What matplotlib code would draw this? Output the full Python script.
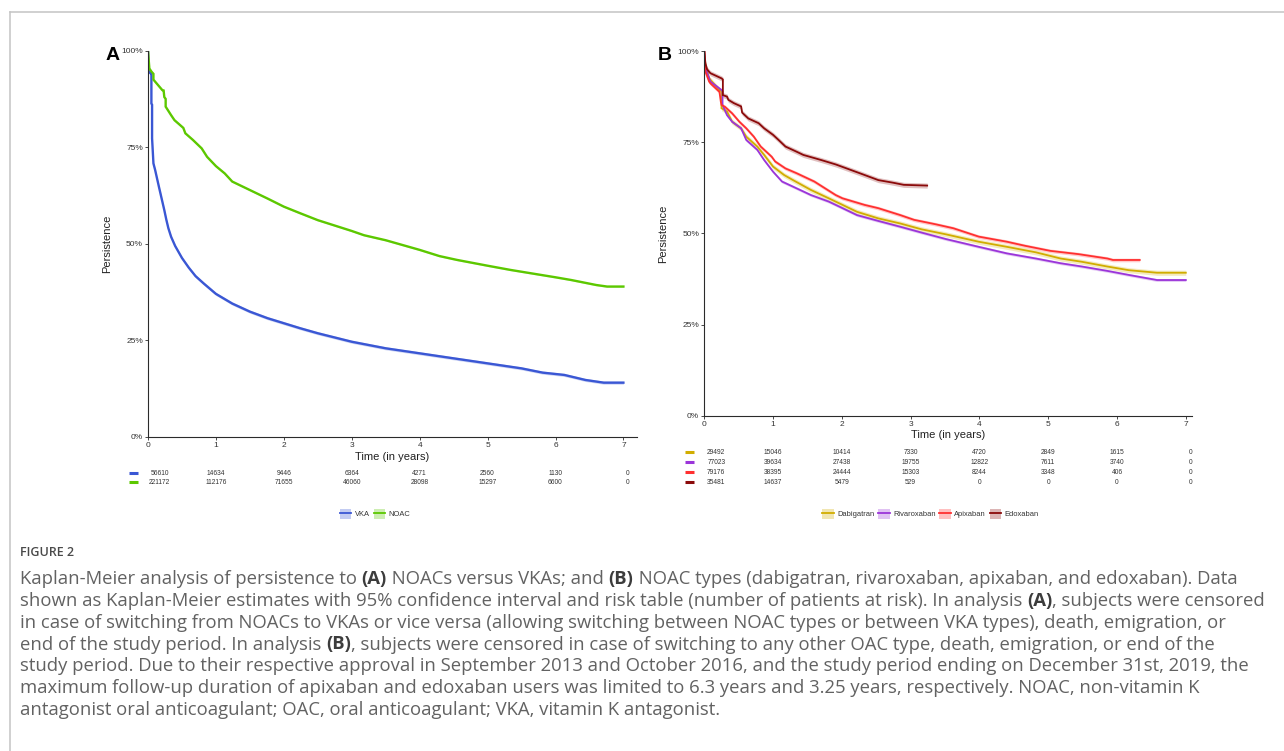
import numpy as np
import matplotlib
matplotlib.use("Agg")
import matplotlib.pyplot as plt
from matplotlib.lines import Line2D
from matplotlib.patches import Patch
from matplotlib.transforms import blended_transform_factory, offset_copy

W, H = 1284, 751
plt.rcParams['font.family'] = ['Liberation Sans', 'DejaVu Sans']

# ---- panel A: NOAC vs VKA ----
vka_t = [0, 0.01, 0.04, 0.05, 0.05, 0.06, 0.06, 0.08, 0.105, 0.16, 0.24, 0.27, 0.30, 0.34, 0.4, 0.5,
         0.6, 0.7, 0.82, 1.0, 1.24, 1.5, 1.76, 2.0, 2.24, 2.5, 3.0, 3.5, 4.0, 4.5, 5.0, 5.5, 5.81,
         6.13, 6.44, 6.71, 7.0]
vka_s = [1.0, 0.946, 0.941, 0.941, 0.863, 0.86, 0.773, 0.708, 0.691, 0.648, 0.587, 0.562, 0.540,
         0.518, 0.494, 0.463, 0.438, 0.416, 0.397, 0.370, 0.345, 0.324, 0.307, 0.294, 0.281, 0.268,
         0.246, 0.229, 0.216, 0.203, 0.190, 0.177, 0.166, 0.160, 0.147, 0.14, 0.14]
noac_t = [0, 0.02, 0.05, 0.08, 0.08, 0.21, 0.23, 0.24, 0.26, 0.26, 0.34, 0.39, 0.52, 0.55, 0.66,
          0.79, 0.87, 1.0, 1.13, 1.24, 1.5, 1.76, 2.0, 2.24, 2.5, 3.0, 3.18, 3.5, 4.0, 4.29, 4.55,
          5.0, 5.34, 6.0, 6.23, 6.6, 6.76, 7.0]
noac_s = [1.0, 0.954, 0.946, 0.94, 0.925, 0.898, 0.897, 0.88, 0.875, 0.855, 0.833, 0.82, 0.80,
          0.786, 0.769, 0.747, 0.725, 0.701, 0.682, 0.661, 0.639, 0.617, 0.596, 0.579, 0.561, 0.533,
          0.522, 0.509, 0.484, 0.468, 0.458, 0.443, 0.432, 0.413, 0.406, 0.393, 0.389, 0.389]
risk_vka = [56610, 14634, 9446, 6364, 4271, 2560, 1130, 0]
risk_noac = [221172, 112176, 71655, 46060, 28098, 15297, 6600, 0]

# ---- panel B: NOAC types ----
dabi_t = [0, 0.016, 0.07, 0.22, 0.25, 0.25, 0.33, 0.405, 0.535, 0.61, 0.77, 0.87, 1.0, 1.16, 1.29,
          1.55, 1.81, 2.01, 2.22, 2.53, 2.85, 3.16, 3.52, 3.99, 4.4, 4.82, 5.18, 5.49, 5.86, 6.17,
          6.58, 7.0]
dabi_s = [1.0, 0.961, 0.925, 0.893, 0.89, 0.843, 0.834, 0.806, 0.788, 0.765, 0.738, 0.715, 0.683,
          0.660, 0.646, 0.619, 0.596, 0.578, 0.559, 0.541, 0.527, 0.511, 0.497, 0.477, 0.463, 0.448,
          0.431, 0.422, 0.409, 0.399, 0.392, 0.392]
riva_t = [0, 0.016, 0.09, 0.25, 0.265, 0.265, 0.33, 0.405, 0.535, 0.61, 0.77, 0.87, 1.0, 1.13, 1.29,
          1.55, 1.81, 2.01, 2.22, 2.53, 2.85, 3.16, 3.52, 3.99, 4.4, 4.82, 5.18, 5.49, 5.86, 6.17,
          6.58, 7.0]
riva_s = [1.0, 0.953, 0.916, 0.893, 0.89, 0.852, 0.824, 0.806, 0.788, 0.756, 0.729, 0.701, 0.669,
          0.642, 0.628, 0.605, 0.587, 0.569, 0.550, 0.534, 0.518, 0.502, 0.484, 0.463, 0.445, 0.431,
          0.418, 0.409, 0.397, 0.386, 0.372, 0.372]
apix_t = [0, 0.016, 0.07, 0.09, 0.22, 0.24, 0.25, 0.30, 0.405, 0.51, 0.61, 0.72, 0.82, 0.98, 1.03,
          1.18, 1.34, 1.6, 1.91, 2.01, 2.33, 2.53, 2.85, 3.05, 3.36, 3.62, 3.99, 4.4, 4.66, 5.03,
          5.44, 5.86, 5.94, 6.33]
apix_s = [1.0, 0.943, 0.916, 0.911, 0.888, 0.861, 0.852, 0.847, 0.829, 0.806, 0.788, 0.765, 0.738,
          0.710, 0.697, 0.678, 0.665, 0.642, 0.605, 0.596, 0.578, 0.569, 0.550, 0.537, 0.525, 0.514,
          0.491, 0.477, 0.466, 0.452, 0.443, 0.431, 0.427, 0.427]
edox_t = [0, 0.016, 0.04, 0.07, 0.09, 0.25, 0.27, 0.27, 0.33, 0.35, 0.43, 0.535, 0.55, 0.64, 0.79,
          0.87, 1.0, 1.08, 1.18, 1.34, 1.44, 1.7, 1.91, 2.07, 2.33, 2.53, 2.74, 2.9, 3.24]
edox_s = [1.0, 0.966, 0.95, 0.943, 0.939, 0.925, 0.922, 0.879, 0.875, 0.866, 0.857, 0.848, 0.831,
          0.815, 0.802, 0.788, 0.770, 0.756, 0.738, 0.724, 0.715, 0.701, 0.689, 0.678, 0.66, 0.646,
          0.639, 0.633, 0.631]
risk_dabi = [29492, 15046, 10414, 7330, 4720, 2849, 1615, 0]
risk_riva = [77023, 39634, 27438, 19755, 12822, 7611, 3740, 0]
risk_apix = [79176, 38395, 24444, 15303, 8244, 3348, 406, 0]
risk_edox = [35481, 14637, 5479, 529, 0, 0, 0, 0]

times = [0, 1, 2, 3, 4, 5, 6, 7]

groups_a = [("VKA", vka_t, vka_s, risk_vka, "#3a57d4", 0.004),
            ("NOAC", noac_t, noac_s, risk_noac, "#5cc800", 0.002)]
groups_b = [("Dabigatran", dabi_t, dabi_s, risk_dabi, "#d1ad00", 0.007),
            ("Rivaroxaban", riva_t, riva_s, risk_riva, "#9b35d9", 0.004),
            ("Apixaban", apix_t, apix_s, risk_apix, "#ff3030", 0.005),
            ("Edoxaban", edox_t, edox_s, risk_edox, "#8b0a0a", 0.007)]


def fx(px):
    return px / W


def fy(py):
    return 1 - py / H


fig = plt.figure(figsize=(W / 100, H / 100), dpi=100)

# frame of the figure box
fig.add_artist(Line2D([fx(10), 1], [fy(12), fy(12)], color="#c4c4c4", lw=1.1))
fig.add_artist(Line2D([fx(10), fx(10)], [fy(12), 0], color="#c4c4c4", lw=1.1))


def km_panel(box, xmax, groups, lw, label, label_xy, ylab_x, xlab_y, rows_y, sw_x, leg_xy, col_shift):
    left, top, right, bottom = box
    ax = fig.add_axes([fx(left), fy(bottom), fx(right) - fx(left), (bottom - top) / H])
    for name, t, s, risk, c, ci in groups:
        s = np.array(s)
        ax.fill_between(t, s - ci, s + ci, color=c, alpha=0.25, lw=0)
        ax.plot(t, s, color=c, lw=lw, solid_joinstyle="miter")
    ax.set_xlim(0, xmax)
    ax.set_ylim(0, 1)
    ax.set_xticks(times)
    ax.set_yticks([0, 0.25, 0.5, 0.75, 1])
    ax.set_yticklabels(["0%", "25%", "50%", "75%", "100%"])
    for sp in ["top", "right"]:
        ax.spines[sp].set_visible(False)
    for sp in ["left", "bottom"]:
        ax.spines[sp].set_color("#2b2b2b")
        ax.spines[sp].set_linewidth(0.8)
    ax.tick_params(length=2.2, width=0.6, labelsize=6, pad=1.5, color="#2b2b2b", labelcolor="#333333")
    ax.set_ylabel("Persistence", fontsize=8, color="#222222")
    ax.set_xlabel("Time (in years)", fontsize=8, color="#222222")
    ax.yaxis.set_label_coords((ylab_x - left) / (right - left), 0.5)
    ax.xaxis.set_label_coords(0.5, -(xlab_y - 5.5 - bottom) / (bottom - top))
    fig.text(fx(label_xy[0]), fy(label_xy[1]), label, fontsize=14, fontweight="bold",
             ha="left", va="center", color="black")

    # risk table
    tr = blended_transform_factory(ax.transData, fig.transFigure)
    for (name, t, s, risk, c, ci), ry in zip(groups, rows_y):
        fig.add_artist(Line2D([fx(sw_x - 4.7), fx(sw_x + 4.7)], [fy(ry), fy(ry)], color=c, lw=2.2,
                              solid_capstyle="butt"))
        for k, (tv, n) in enumerate(zip(times, risk)):
            dx = col_shift[0] if k == 0 else (col_shift[1] if k == len(times) - 1 else 0)
            ax.text(tv, fy(ry), str(n), transform=offset_copy(tr, fig=fig, x=dx * 0.72, y=0, units="points"),
                    fontsize=4.8, ha="center", va="center", color="#333333", clip_on=False)

    handles = [(Patch(facecolor=c, alpha=0.3, lw=0), Line2D([], [], color=c, lw=1.3))
               for name, t, s, risk, c, ci in groups]
    fig.legend(handles, [g[0] for g in groups], loc="center", bbox_to_anchor=(fx(leg_xy[0]), fy(leg_xy[1])),
               ncol=len(groups), frameon=False, fontsize=5.4, handlelength=1.55, handleheight=1.55,
               columnspacing=0.5, handletextpad=0.45, labelcolor="#333333", borderpad=0)
    return ax


km_panel((148, 50.7, 637, 436.7), 7.2, groups_a, 1.7, "A", (106, 55), 112.5, 457,
         [473.3, 482.3], 133.3, (375, 514), (11.5, 4))
km_panel((704.3, 51, 1192, 415.7), 7.09, groups_b, 1.3, "B", (658, 55), 668.6, 435,
         [452.3, 462.3, 472.3, 482.3], 689.3, (930.5, 514), (12, 5))

# ---- caption ----
cap_font = ["Open Sans", "DejaVu Sans"]
fig.text(fx(20), fy(552), "FIGURE 2", fontsize=9, fontweight="semibold", family=cap_font,
         color="#4a4a4a", ha="left", va="center")

caption = [
    [("Kaplan-Meier analysis of persistence to ", False), ("(A)", True),
     (" NOACs versus VKAs; and ", False), ("(B)", True),
     (" NOAC types (dabigatran, rivaroxaban, apixaban, and edoxaban). Data", False)],
    [("shown as Kaplan-Meier estimates with 95% confidence interval and risk table (number of patients at risk). In analysis ", False),
     ("(A)", True), (", subjects were censored", False)],
    [("in case of switching from NOACs to VKAs or vice versa (allowing switching between NOAC types or between VKA types), death, emigration, or", False)],
    [("end of the study period. In analysis ", False), ("(B)", True),
     (", subjects were censored in case of switching to any other OAC type, death, emigration, or end of the", False)],
    [("study period. Due to their respective approval in September 2013 and October 2016, and the study period ending on December 31st, 2019, the", False)],
    [("maximum follow-up duration of apixaban and edoxaban users was limited to 6.3 years and 3.25 years, respectively. NOAC, non-vitamin K", False)],
    [("antagonist oral anticoagulant; OAC, oral anticoagulant; VKA, vitamin K antagonist.", False)],
]
line_y = [579, 601, 623, 644.5, 666, 688, 710]

renderer = fig.canvas.get_renderer()


def run_width(txt, bold, size):
    probe = fig.text(0, 0, "|" + txt + "|", fontsize=size, family=cap_font,
                     fontweight="bold" if bold else "normal")
    base = fig.text(0, 0, "||", fontsize=size, family=cap_font, fontweight="bold" if bold else "normal")
    w = probe.get_window_extent(renderer).width - base.get_window_extent(renderer).width
    probe.remove()
    base.remove()
    return w


# fit the longest line to its width in the reference
trial = 11.0
w2 = sum(run_width(tx, b, trial) for tx, b in caption[1])
cap_size = trial * (1262 - 20) / w2

for runs, yy in zip(caption, line_y):
    x = 20.0
    for tx, b in runs:
        fig.text(fx(x), fy(yy), tx, fontsize=cap_size, family=cap_font,
                 fontweight="bold" if b else "normal", color="#3c3c3c" if b else "#626262",
                 ha="left", va="center")
        x += run_width(tx, b, cap_size)

fig.savefig("out.png", dpi=100)
